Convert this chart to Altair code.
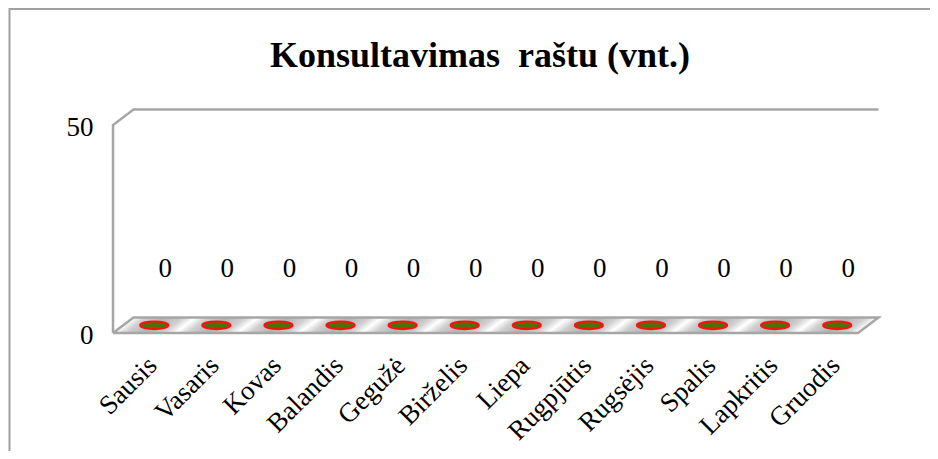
import json
import altair as alt
import pandas as pd

# ---- data ----
months = ["Sausis", "Vasaris", "Kovas", "Balandis", "Gegužė", "Birželis",
          "Liepa", "Rugpjūtis", "Rugsėjis", "Spalis", "Lapkritis", "Gruodis"]
values = [0, 0, 0, 0, 0, 0, 0, 0, 0, 0, 0, 0]
y_ticks = [0, 50]
title_text = "Konsultavimas\u00a0 raštu (vnt.)"

# ---- style constants ----
FONT = "Liberation Serif"
FS = 27
N = len(months)
Y_MAX = y_ticks[-1]
DX = 0.33   # 3D depth, in x units
DY = 3.7    # 3D depth, in y units
FRAME = "#a6a6a6"

df = pd.DataFrame({"month": months, "value": values, "idx": list(range(N))})

# floor slots (one parallelogram per category)
slot_rows = []
for i in range(N):
    slot_rows.append({"slot": i, "fy": 0, "xa": i, "xb": i + 1})
    slot_rows.append({"slot": i, "fy": DY, "xa": i + DX, "xb": i + 1 + DX})
slots = pd.DataFrame(slot_rows)

# frame outlines
frame_pts = [
    ("floor", 0, 0), ("floor", N, 0), ("floor", N + DX, DY), ("floor", DX, DY), ("floor", 0, 0),
    ("wall", N + DX, Y_MAX + DY), ("wall", DX, Y_MAX + DY), ("wall", 0, Y_MAX), ("wall", 0, 0),
]
frame = pd.DataFrame([{"path": p, "ord": k, "fx": x, "fy": y}
                      for k, (p, x, y) in enumerate(frame_pts)])

xscale = alt.Scale(domain=[0, N], nice=False, zero=False)
yscale = alt.Scale(domain=[0, Y_MAX], nice=False, zero=False)

xaxis = alt.Axis(
    title=None, values=[i + 0.5 + DX / 2 for i in range(N)],
    labelExpr=json.dumps(months, ensure_ascii=False) + "[floor(datum.value)]",
    labelAngle=-45, labelAlign="right", labelBaseline="middle",
    labelFont=FONT, labelFontSize=FS, labelColor="black", labelPadding=28,
    labelOffset=-2,
    ticks=False, domain=False, grid=False, labelOverlap=False,
)
yaxis = alt.Axis(
    title=None, values=y_ticks, labelFont=FONT, labelFontSize=FS,
    labelColor="black", labelPadding=20, ticks=False, domain=False, grid=False,
    labelOffset=2,
)

border = alt.Chart(alt.Data(values=[{}])).mark_rect(
    fillOpacity=0, stroke="#a0a0a0", strokeWidth=2
).encode(x=alt.value(-103.5), y=alt.value(-116), x2=alt.value(1000), y2=alt.value(500))

title = alt.Chart(alt.Data(values=[{}])).mark_text(
    text=title_text, font=FONT, fontSize=36, fontWeight="bold", color="black",
    align="center", baseline="alphabetic",
).encode(x=alt.value(367), y=alt.value(-58))

a = DX / (1 + DX)
k = (1 - a) / (1 + a * a)
floor_grad = alt.Gradient(
    gradient="linear",
    stops=[
        alt.GradientStop(offset=0, color="#ffffff"),
        alt.GradientStop(offset=0.2, color="#cfcfcf"),
        alt.GradientStop(offset=0.5, color="#b4b4b4"),
        alt.GradientStop(offset=0.8, color="#cfcfcf"),
        alt.GradientStop(offset=1, color="#ffffff"),
    ],
    x1=0, y1=1, x2=k, y2=1 + k * a,
)

floor = alt.Chart(slots).mark_area(orient="horizontal", color=floor_grad).encode(
    y=alt.Y("fy:Q", scale=yscale, axis=yaxis),
    x=alt.X("xa:Q", scale=xscale, axis=xaxis, stack=None),
    x2="xb:Q",
    detail="slot:N",
)

lines = alt.Chart(frame).mark_line(color=FRAME, strokeWidth=2.5).encode(
    x=alt.X("fx:Q", scale=xscale, axis=xaxis),
    y=alt.Y("fy:Q", scale=yscale, axis=yaxis),
    detail="path:N",
    order="ord:Q",
)

ELLIPSE = "M-1,0A1,0.27,0,1,1,1,0A1,0.27,0,1,1,-1,0Z"
base = alt.Chart(df).transform_calculate(
    px=f"datum.idx + 0.5 + {DX / 2}",
    py=f"datum.value + {DY / 2}",
)
dots = base.mark_point(
    shape=ELLIPSE, size=784, filled=True, fill="#4b7207", stroke="#ff1010",
    strokeWidth=2.2, opacity=1,
).encode(
    x=alt.X("px:Q", scale=xscale, axis=xaxis),
    y=alt.Y("py:Q", scale=yscale, axis=yaxis),
)
labels = base.mark_text(
    font=FONT, fontSize=FS, color="black", dx=11, dy=-56, baseline="middle"
).encode(
    x=alt.X("px:Q", scale=xscale, axis=xaxis),
    y=alt.Y("py:Q", scale=yscale, axis=yaxis),
    text=alt.Text("value:Q", format="d"),
)

chart = alt.layer(border, title, floor, lines, dots, labels).properties(
    width=745, height=208,
    background="white",
    autosize=alt.AutoSizeParams(type="none"),
    padding={"left": 105, "top": 117, "right": 72, "bottom": 118},
).configure_view(strokeWidth=0, stroke="transparent")

chart.save("out.html", embed_options={"renderer": "svg", "actions": False})
